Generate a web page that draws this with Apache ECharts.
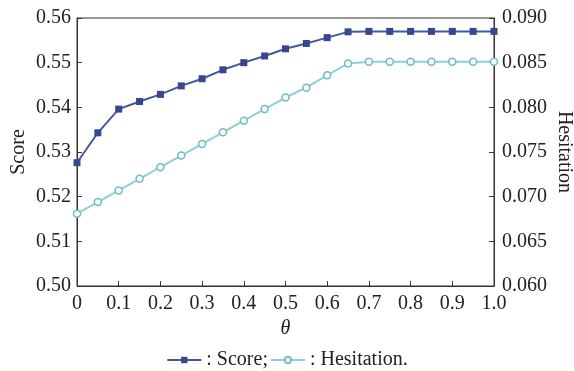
<!DOCTYPE html>
<html>
<head>
<meta charset="utf-8">
<script src="https://cdn.jsdelivr.net/npm/echarts@6/dist/echarts.min.js"></script>
<style>
  html, body { margin: 0; padding: 0; background: #fff; }
  #chart { width: 574px; height: 371px; }
</style>
</head>
<body>
<div id="chart"></div>
<script>
// theta values along x
var thetas = [0, 0.05, 0.1, 0.15, 0.2, 0.25, 0.3, 0.35, 0.4, 0.45, 0.5,
  0.55, 0.6, 0.65, 0.7, 0.75, 0.8, 0.85, 0.9, 0.95, 1.0];
var scoreVals = [0.5276, 0.5343, 0.5396, 0.5413, 0.5429, 0.5448, 0.5464, 0.5484, 0.5500, 0.5515, 0.5531,
  0.5543, 0.5556, 0.5569, 0.5570, 0.5570, 0.5570, 0.5570, 0.5570, 0.5570, 0.5570];
var hesitationVals = [0.0681, 0.0694, 0.0707, 0.0720, 0.0733, 0.0746, 0.0759, 0.0772, 0.0785, 0.0798, 0.0811,
  0.0822, 0.0836, 0.0849, 0.0851, 0.0851, 0.0851, 0.0851, 0.0851, 0.0851, 0.0851];
var xTicks = ['0', '0.1', '0.2', '0.3', '0.4', '0.5', '0.6', '0.7', '0.8', '0.9', '1.0'];

var FONT = '"Liberation Serif", "DejaVu Serif", serif';
var TXT = '#222';

function pairs(ys) {
  return thetas.map(function (t, i) { return [t, ys[i]]; });
}

var chart = echarts.init(document.getElementById('chart'));
var option = {
  animation: false,
  textStyle: { fontFamily: FONT, color: TXT },
  grid: { left: 77, right: 80, top: 18, bottom: 85, show: true, borderColor: '#333', borderWidth: 1,
    containLabel: false, outerBoundsMode: 'none' },
  xAxis: {
    type: 'value', min: 0, max: 1, interval: 0.1,
    name: 'θ', nameLocation: 'middle', nameGap: 32,
    nameTextStyle: { fontFamily: FONT, fontSize: 20, fontStyle: 'italic', color: TXT },
    axisLine: { show: true, lineStyle: { color: '#333' } },
    axisTick: { show: true, inside: true, length: 5, lineStyle: { color: '#333' } },
    splitLine: { show: false },
    axisLabel: {
      fontFamily: FONT, fontSize: 20, color: TXT, margin: 8,
      formatter: function (v) { return xTicks[Math.round(v * 10)]; }
    }
  },
  yAxis: [{
    type: 'value', min: 0.50, max: 0.56, interval: 0.01,
    name: 'Score', nameLocation: 'middle', nameGap: 48, nameMoveOverlap: false,
    nameTextStyle: { fontFamily: FONT, fontSize: 20, color: TXT },
    axisLine: { show: true, lineStyle: { color: '#333' } },
    axisTick: { show: true, inside: true, length: 5, lineStyle: { color: '#333' } },
    splitLine: { show: false },
    axisLabel: { fontFamily: FONT, fontSize: 20, color: TXT, margin: 6,
      formatter: function (v) { return v.toFixed(2); } }
  }, {
    type: 'value', min: 0.060, max: 0.090, interval: 0.005,
    name: 'Hesitation', nameLocation: 'middle', nameGap: 60, nameRotate: -90, nameMoveOverlap: false,
    nameTextStyle: { fontFamily: FONT, fontSize: 20, color: TXT },
    axisLine: { show: true, lineStyle: { color: '#333' } },
    axisTick: { show: true, inside: true, length: 5, lineStyle: { color: '#333' } },
    splitLine: { show: false },
    axisLabel: { fontFamily: FONT, fontSize: 20, color: TXT, margin: 8,
      formatter: function (v) { return v.toFixed(3); } }
  }],
  legend: {
    top: 345, left: 'center', itemGap: 2, itemWidth: 34, itemHeight: 8,
    textStyle: { fontFamily: FONT, fontSize: 20, color: TXT },
    formatter: function (n) { return n === 'Score' ? ': Score;' : ': Hesitation.'; },
    data: ['Score', 'Hesitation']
  },
  series: [{
    name: 'Score', type: 'line', yAxisIndex: 0,
    data: pairs(scoreVals),
    symbol: 'rect', symbolSize: 7, showSymbol: true, showAllSymbol: true,
    lineStyle: { color: '#46579d', width: 2, type: 'solid' },
    itemStyle: { color: '#36468f' }
  }, {
    name: 'Hesitation', type: 'line', yAxisIndex: 1,
    data: pairs(hesitationVals),
    symbol: 'circle', symbolSize: 7, showSymbol: true, showAllSymbol: true,
    lineStyle: { color: '#8fd0d3', width: 2, type: 'solid' },
    itemStyle: { color: '#ffffff', borderColor: '#6cbcc0', borderWidth: 1.5, borderType: 'solid' }
  }]
};
chart.setOption(option);
</script>
</body>
</html>
